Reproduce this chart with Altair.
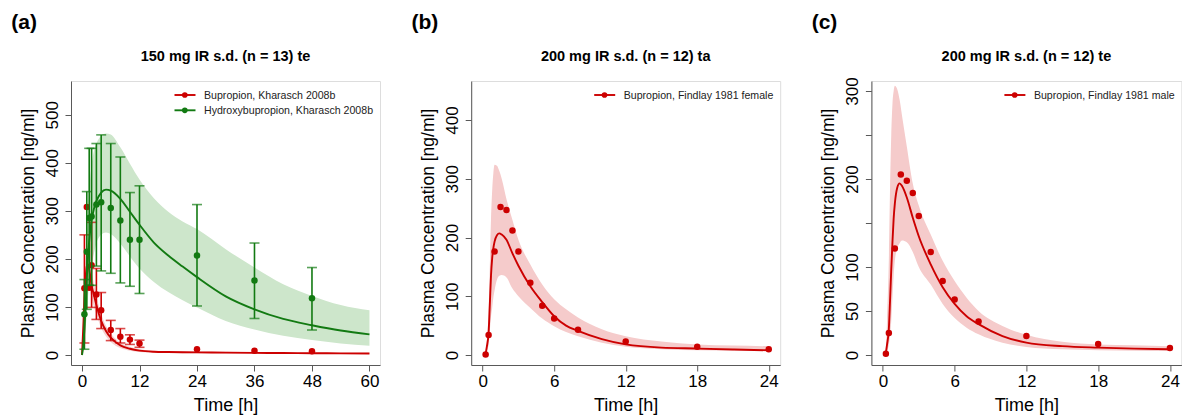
import altair as alt
import pandas as pd

FONT = "Liberation Sans"
RED = "#CC0000"
GREEN = "#127A12"
RED_BAND = "#F5CBCB"
GREEN_BAND = "#CDE6CB"
AXIS_GRAY = "#595959"

panel_tags = ["(a)", "(b)", "(c)"]
panel_titles = ["150 mg IR s.d. (n = 13) te",
                "200 mg IR s.d. (n = 12) ta",
                "200 mg IR s.d. (n = 12) te"]
legend_a = ["Bupropion, Kharasch 2008b", "Hydroxybupropion, Kharasch 2008b"]
legend_b = ["Bupropion, Findlay 1981 female"]
legend_c = ["Bupropion, Findlay 1981 male"]

x_ticks_a = [0, 12, 24, 36, 48, 60]
x_ticks_bc = [0, 6, 12, 18, 24]
y_ticks_a = [0, 100, 200, 300, 400, 500]
y_ticks_b = [0, 100, 200, 300, 400]
y_ticks_c = [0, 50, 100, 150, 200, 250, 300]
y_unlabelled_c = [150, 250]

# ---- panel (a): observed, Kharasch 2008b ----
a_time = [0.5, 1, 1.5, 2, 3, 4, 6, 8, 10, 12, 24, 36, 48]
a_bup = [139, 308, 140, 187, 126, 93, 52, 38, 32, 24, 12, 9, 8]
a_bup_lo = [25, None, None, 99, 74, 55, 30, 25, 22, 16, None, None, None]
a_bup_hi = [250, None, None, 276, 180, 130, 72, 55, 42, 31, None, None, None]
a_hyd = [85, 215, 285, 288, 313, 318, 306, 280, 240, 240, 207, 155, 118]
a_hyd_lo = [12, 95, 145, 145, 185, 175, 170, 150, 143, 128, 102, 76, 52]
a_hyd_hi = [157, 340, 430, 430, 440, 458, 440, 412, 338, 352, 313, 233, 182]

# ---- panel (a): simulation ----
a_sim_t = [0, 0.25, 0.5, 0.75, 1, 1.25, 1.5, 2, 2.5, 3, 4, 5, 6, 8, 10, 12,
           15, 18, 21, 24, 30, 36, 42, 48, 54, 60]
a_sim_bup = [0, 55, 115, 160, 185, 188, 178, 145, 124, 104, 71, 50, 36, 20, 13, 9,
             6.8, 6.2, 5.8, 5.5, 5, 4.5, 4.1, 3.8, 3.4, 3]
a_sim_bup_lo = [0, 35, 80, 120, 150, 152, 142, 118, 100, 85, 56, 39, 27, 14.5, 9, 6.2,
                4.6, 4.1, 3.8, 3.5, 3.2, 3, 2.7, 2.5, 2.2, 2]
a_sim_bup_hi = [0, 75, 150, 200, 220, 222, 210, 172, 148, 124, 86, 61, 45, 26, 17, 12,
                9, 8, 7.7, 7.5, 6.7, 6, 5.5, 5, 4.7, 4.5]
a_sim_hyd = [0, 20, 55, 100, 160, 205, 238, 280, 305, 320, 338, 344, 342, 325, 298, 271,
             234, 207, 184, 162, 122, 95, 75, 62, 51, 43]
a_sim_hyd_lo = [0, 8, 25, 55, 85, 120, 150, 185, 212, 232, 250, 255, 252, 232, 205, 180,
                152, 131, 114, 99, 71, 53, 40, 31, 24, 19]
a_sim_hyd_hi = [0, 40, 110, 190, 250, 300, 340, 395, 425, 440, 456, 461, 459, 432, 398, 365,
                326, 298, 278, 262, 220, 182, 147, 123, 104, 93]

# ---- panels (b), (c): observed, Findlay 1981 ----
bc_time = [0.25, 0.5, 1, 1.5, 2, 2.5, 3, 4, 5, 6, 8, 12, 18, 24]
b_obs = [1, 34, 176, 252, 247, 212, 176, 123, 84, 62, 43, 23, 14, 10]
c_obs = [1.5, 25, 121, 205, 198, 184, 158, 117, 84, 63, 38, 21.5, 12.5, 8]

# ---- panels (b), (c): simulation ----
bc_sim_t = [0.15, 0.25, 0.35, 0.5, 0.6, 0.7, 0.8, 0.9, 1.0, 1.2, 1.4, 1.6, 2, 2.5, 3,
            4, 5, 6, 7, 8, 10, 12, 15, 18, 21, 24]
b_sim = [0, 3, 14, 38, 85, 135, 165, 182, 193, 204, 207, 205, 196, 173, 152,
         117, 90, 66, 50, 41, 27, 18, 12.5, 11, 9.5, 8]
b_sim_lo = [0, 1, 6, 18, 40, 65, 80, 98, 110, 128, 135, 136, 132, 113, 100,
            80, 62, 49, 39, 32, 21, 14, 10, 8, 7.5, 7]
b_sim_hi = [0, 5, 25, 75, 150, 230, 280, 310, 324, 322, 313, 300, 265, 230, 196,
            154, 120, 95, 78, 64, 44, 32, 23, 18, 16, 15]
c_sim = [0, 3, 12, 30, 62, 97, 128, 155, 172, 190, 195, 192, 179, 156, 135,
         103, 77, 58, 44, 35, 21.5, 14, 10, 8.3, 7.2, 6.4]
c_sim_lo = [0, 1, 4, 12, 22, 39, 65, 90, 107, 121, 127, 130, 128, 117, 100,
            80, 58, 42, 31, 23.5, 14, 9, 6.4, 5.3, 4.8, 4.5]
c_sim_hi = [0, 8, 40, 110, 190, 250, 285, 300, 306, 302, 290, 272, 237, 195, 170,
            137, 107, 84, 65, 50, 33, 23, 15, 12, 11, 10]


def x_enc(domain, ticks):
    return alt.X("t:Q", scale=alt.Scale(domain=domain, nice=False, zero=False),
                 axis=alt.Axis(values=ticks, title="Time [h]", grid=False,
                               domainColor=AXIS_GRAY, tickColor=AXIS_GRAY, tickSize=6,
                               labelFont=FONT, labelFontSize=17, labelColor="black",
                               labelPadding=15.7, labelBaseline="alphabetic",
                               labelFlush=False, labelOverlap=False,
                               titleFont=FONT, titleFontSize=18, titleFontWeight="normal",
                               titleColor="black", titleY=45.5, titleBaseline="alphabetic"))


def y_enc(field, domain, ticks, hidden=None):
    expr = "datum.label"
    if hidden:
        cond = " || ".join("datum.value == %s" % h for h in hidden)
        expr = "(%s) ? '' : datum.label" % cond
    return alt.Y(field + ":Q", scale=alt.Scale(domain=domain, nice=False, zero=False),
                 axis=alt.Axis(values=ticks, title="Plasma Concentration [ng/ml]", grid=False,
                               domainColor=AXIS_GRAY, tickColor=AXIS_GRAY, tickSize=6,
                               labelFont=FONT, labelFontSize=17, labelColor="black",
                               labelAngle=270, labelAlign="center", labelBaseline="alphabetic",
                               labelPadding=8, labelFlush=False, labelOverlap=False,
                               labelExpr=expr,
                               titleFont=FONT, titleFontSize=17.5, titleFontWeight="normal",
                               titleColor="black", titleAngle=270, titleAlign="center",
                               titleBaseline="alphabetic", titleX=-37.7, titleY=142))


one = pd.DataFrame({"k": [0]})


def band(df, color, X, ydom, yt, hidden=None, opacity=1.0):
    return alt.Chart(df).mark_area(color=color, opacity=opacity, interpolate="monotone").encode(
        x=X, y=y_enc("lo", ydom, yt, hidden), y2="hi:Q")


def line(df, color, X, ydom, yt, hidden=None):
    return alt.Chart(df).mark_line(color=color, strokeWidth=1.9, interpolate="monotone").encode(
        x=X, y=y_enc("v", ydom, yt, hidden))


def points(df, color, X, ydom, yt, hidden=None):
    return alt.Chart(df).mark_circle(color=color, size=42, opacity=1).encode(
        x=X, y=y_enc("v", ydom, yt, hidden))


def errbars(df, color, X, ydom, yt):
    d = df.dropna()
    r = alt.Chart(d).mark_rule(color=color, strokeWidth=1.6).encode(
        x=X, y=y_enc("lo", ydom, yt), y2="hi:Q")
    t1 = alt.Chart(d).mark_tick(color=color, orient="horizontal", size=10, thickness=1.6).encode(
        x=X, y=y_enc("lo", ydom, yt))
    t2 = alt.Chart(d).mark_tick(color=color, orient="horizontal", size=10, thickness=1.6).encode(
        x=X, y=y_enc("hi", ydom, yt))
    return [r, t1, t2]


def legend_entry(label, color, x0, y0):
    ln = alt.Chart(one).mark_rule(color=color, strokeWidth=1.9).encode(
        x=alt.value(x0), x2=alt.value(x0 + 21), y=alt.value(y0))
    dot = alt.Chart(one).mark_circle(color=color, size=32, opacity=1).encode(
        x=alt.value(x0 + 10.3), y=alt.value(y0))
    txt = alt.Chart(one).mark_text(font=FONT, fontSize=10.6, align="left", baseline="middle",
                                   color="#222222").encode(
        x=alt.value(x0 + 29.5), y=alt.value(y0 + 0.5), text=alt.value(label))
    return [ln, dot, txt]


def headers(tag, title, w):
    t1 = alt.Chart(one).mark_text(font=FONT, fontSize=21, fontWeight="bold", align="left",
                                  baseline="alphabetic", color="black").encode(
        x=alt.value(-59.7), y=alt.value(-51.7), text=alt.value(tag))
    t2 = alt.Chart(one).mark_text(font=FONT, fontSize=14.5, fontWeight="bold", align="center",
                                  baseline="alphabetic", color="black").encode(
        x=alt.value(w / 2), y=alt.value(-20.3), text=alt.value(title))
    return [t1, t2]


H = 284

# ---------- panel a ----------
WA = 309
xa = x_enc([-2.3, 62.2], x_ticks_a)
yda = [-20.8, 570.1]
a_sim_b = pd.DataFrame({"t": a_sim_t, "v": a_sim_bup, "lo": a_sim_bup_lo, "hi": a_sim_bup_hi})
a_sim_h = pd.DataFrame({"t": a_sim_t, "v": a_sim_hyd, "lo": a_sim_hyd_lo, "hi": a_sim_hyd_hi})
a_obs_b = pd.DataFrame({"t": a_time, "v": a_bup})
a_obs_h = pd.DataFrame({"t": a_time, "v": a_hyd})
a_err_b = pd.DataFrame({"t": a_time, "lo": a_bup_lo, "hi": a_bup_hi})
a_err_h = pd.DataFrame({"t": a_time, "lo": a_hyd_lo, "hi": a_hyd_hi})

anchor = alt.Chart(one).mark_rule(color="white", strokeWidth=0.01).encode(
    x=alt.value(-70), x2=alt.value(-70), y=alt.value(-80), y2=alt.value(-75))

layers_a = [band(a_sim_h, GREEN_BAND, xa, yda, y_ticks_a),
            band(a_sim_b, RED_BAND, xa, yda, y_ticks_a, opacity=0.9),
            line(a_sim_b, RED, xa, yda, y_ticks_a)]
layers_a += errbars(a_err_b, RED, xa, yda, y_ticks_a)
layers_a += [points(a_obs_b, RED, xa, yda, y_ticks_a),
             line(a_sim_h, GREEN, xa, yda, y_ticks_a)]
layers_a += errbars(a_err_h, GREEN, xa, yda, y_ticks_a)
layers_a += [points(a_obs_h, GREEN, xa, yda, y_ticks_a)]
layers_a += legend_entry(legend_a[0], RED, 103.5, 14)
layers_a += legend_entry(legend_a[1], GREEN, 103.5, 29.3)
layers_a += headers(panel_tags[0], panel_titles[0], WA)
layers_a += [anchor]
chart_a = alt.layer(*layers_a).properties(width=WA, height=H)

# ---------- panel b ----------
WB = 309
xb = x_enc([-0.96, 24.96], x_ticks_bc)
ydb = [-17.0, 466.4]
b_sim_df = pd.DataFrame({"t": bc_sim_t, "v": b_sim, "lo": b_sim_lo, "hi": b_sim_hi})
b_obs_df = pd.DataFrame({"t": bc_time, "v": b_obs})
layers_b = [band(b_sim_df, RED_BAND, xb, ydb, y_ticks_b),
            line(b_sim_df, RED, xb, ydb, y_ticks_b),
            points(b_obs_df, RED, xb, ydb, y_ticks_b)]
layers_b += legend_entry(legend_b[0], RED, 123, 14)
layers_b += headers(panel_tags[1], panel_titles[1], WB)
chart_b = alt.layer(*layers_b).properties(width=WB, height=H)

# ---------- panel c ----------
WC = 310
xc = x_enc([-0.96, 24.96], x_ticks_bc)
ydc = [-11.4, 311.4]
c_sim_df = pd.DataFrame({"t": bc_sim_t, "v": c_sim, "lo": c_sim_lo, "hi": c_sim_hi})
c_obs_df = pd.DataFrame({"t": bc_time, "v": c_obs})
layers_c = [band(c_sim_df, RED_BAND, xc, ydc, y_ticks_c, y_unlabelled_c),
            line(c_sim_df, RED, xc, ydc, y_ticks_c, y_unlabelled_c),
            points(c_obs_df, RED, xc, ydc, y_ticks_c, y_unlabelled_c)]
layers_c += legend_entry(legend_c[0], RED, 133, 14)
layers_c += headers(panel_tags[2], panel_titles[2], WC)
chart_c = alt.layer(*layers_c).properties(width=WC, height=H)

chart = alt.hconcat(chart_a, chart_b, chart_c, spacing=91.2, bounds="flush").properties(
    padding=0, background="white"
).configure_view(stroke=None).configure(font=FONT)

chart.save("out.html", embed_options={"renderer": "svg", "actions": False})
